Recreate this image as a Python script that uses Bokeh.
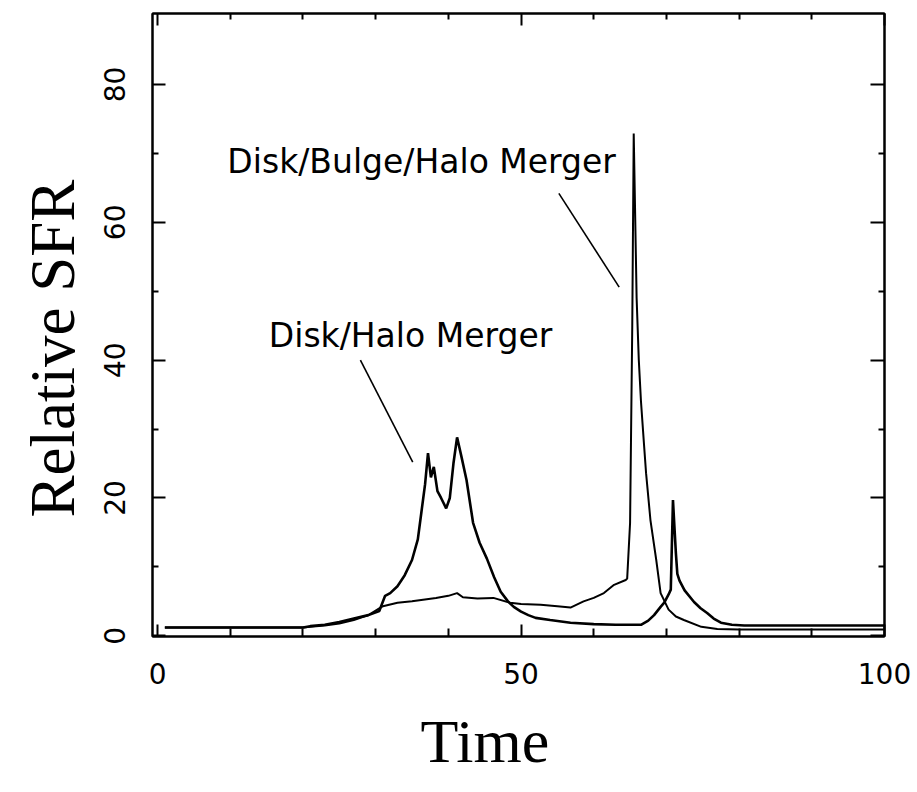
import math
from bokeh.plotting import figure
from bokeh.models import Range1d, LinearAxis, FixedTicker, Label, Title
from bokeh.embed import file_html
from bokeh.resources import INLINE

# ---------------- data ----------------
# Disk/Halo merger (no bulge): early double burst, then small final-merger spike
dh_time = [1, 5, 10, 15, 20, 21, 23, 25, 27, 29, 30.5, 31.3, 32, 33, 34, 35, 35.8,
           36.3, 36.8, 37.2, 37.6, 38.0, 38.5, 39.0, 39.7, 40.2, 40.7, 41.2, 41.8,
           42.5, 43.4, 44.3, 45.3, 46.3, 47.2, 48.2, 49, 50, 51, 52, 54, 56.8, 60,
           63, 66.5, 67.5, 68.3, 69.2, 69.7, 70.3, 70.6, 70.9, 71.1, 71.3, 71.5,
           71.8, 72.5, 73.8, 74.7, 75.6, 76.5, 77.5, 79, 80.7, 85, 90, 95, 100]
dh_sfr = [1.2, 1.2, 1.2, 1.2, 1.2, 1.4, 1.6, 2.0, 2.5, 3.0, 3.6, 5.8, 6.2, 7.2, 8.8,
          11.0, 14.0, 18.0, 22.0, 26.5, 23.0, 24.5, 21.0, 20.0, 18.5, 20.0, 25.0,
          28.8, 26.0, 22.6, 16.4, 13.5, 11.2, 8.5, 6.4, 5.0, 4.2, 3.5, 3.0, 2.6, 2.3,
          1.9, 1.7, 1.6, 1.6, 2.2, 3.0, 4.2, 4.8, 6.0, 6.7, 19.7, 15.8, 12.0, 9.0,
          8.0, 6.6, 4.9, 4.0, 3.3, 2.5, 1.9, 1.6, 1.5, 1.5, 1.5, 1.5, 1.5]

# Disk/Bulge/Halo merger: suppressed early, huge burst at final merger
dbh_time = [1, 5, 10, 15, 20, 21, 23, 25, 27, 29, 31, 33, 35, 38.3, 40, 41.2, 42,
            44, 46.2, 48.5, 50, 52.7, 55, 56.8, 58.6, 60, 61.4, 62.8, 64.4, 64.6,
            65.0, 65.3, 65.5, 65.7, 65.9, 66.2, 66.5, 66.9, 67.2, 67.8, 68.6, 69.2,
            70.3, 71.3, 72.4, 74.8, 77, 80, 85, 90, 95, 100]
dbh_sfr = [1.2, 1.2, 1.2, 1.2, 1.2, 1.3, 1.5, 1.8, 2.3, 3.0, 4.3, 4.8, 5.0, 5.5,
           5.8, 6.2, 5.6, 5.4, 5.5, 4.8, 4.6, 4.5, 4.3, 4.1, 5.0, 5.5, 6.2, 7.4,
           8.1, 8.3, 16.4, 45.0, 72.9, 61.0, 49.0, 40.0, 34.0, 28.0, 23.6, 16.8,
           11.0, 6.2, 3.8, 2.8, 2.3, 1.3, 1.0, 0.9, 0.9, 0.9, 0.9, 0.9]

x_major_ticks = [0, 50, 100]
x_minor_ticks = [10, 20, 30, 40, 60, 70, 80, 90]
y_major_ticks = [0, 20, 40, 60, 80]
y_minor_ticks = [10, 30, 50, 70]

label_dbh = "Disk/Bulge/Halo Merger"
label_dh = "Disk/Halo Merger"
x_title = "Time"
y_title = "Relative SFR"

# ---------------- figure ----------------
p = figure(width=917, height=792, output_backend="svg", toolbar_location=None,
           x_range=Range1d(-0.7, 100), y_range=Range1d(-0.1, 90.3),
           x_axis_type=None, y_axis_type=None,
           min_border_left=152, min_border_right=33,
           min_border_top=13, min_border_bottom=156)
p.background_fill_color = "white"
p.border_fill_color = "white"
p.outline_line_color = "black"
p.outline_line_width = 2
p.grid.visible = False

tick_font = "DejaVu Sans"


def style_axis(ax, major_in, minor_in):
    ax.axis_line_color = "black"
    ax.axis_line_width = 2
    ax.major_tick_in = major_in
    ax.major_tick_out = 0
    ax.minor_tick_in = minor_in
    ax.minor_tick_out = 0
    ax.major_tick_line_width = 2
    ax.minor_tick_line_width = 2
    ax.major_tick_line_color = "black"
    ax.minor_tick_line_color = "black"


bottom = LinearAxis(ticker=FixedTicker(ticks=x_major_ticks, minor_ticks=x_minor_ticks))
style_axis(bottom, 12, 8)
bottom.major_label_text_font = tick_font
bottom.major_label_text_font_size = "28px"
bottom.major_label_text_color = "black"
bottom.major_label_standoff = 26
p.add_layout(bottom, "below")

left = LinearAxis(ticker=FixedTicker(ticks=y_major_ticks, minor_ticks=y_minor_ticks))
style_axis(left, 13, 6)
left.major_label_text_font = tick_font
left.major_label_text_font_size = "28px"
left.major_label_text_color = "black"
left.major_label_orientation = "vertical"
left.major_label_standoff = 27
p.add_layout(left, "left")

top = LinearAxis(ticker=FixedTicker(ticks=x_major_ticks, minor_ticks=x_minor_ticks))
style_axis(top, 12, 6)
top.major_label_text_font_size = "0px"
top.major_label_standoff = 0
top.major_label_overrides = {t: "" for t in x_major_ticks}
p.add_layout(top, "above")

right = LinearAxis(ticker=FixedTicker(ticks=y_major_ticks, minor_ticks=y_minor_ticks))
style_axis(right, 14, 6)
right.major_label_text_font_size = "0px"
right.major_label_standoff = 0
right.major_label_overrides = {t: "" for t in y_major_ticks}
p.add_layout(right, "right")

# axis titles (serif, large), placed along the axis as in the reference
p.add_layout(Title(text=y_title, text_font="Liberation Serif", text_font_size="63px",
                   text_font_style="normal", text_color="black",
                   align="left", offset=119, standoff=28), "left")
p.add_layout(Title(text=x_title, text_font="Liberation Serif", text_font_size="62px",
                   text_font_style="normal", text_color="black",
                   align="left", offset=268, standoff=36), "below")

# ---------------- curves ----------------
p.line(dbh_time, dbh_sfr, line_color="black", line_width=2)
p.line(dh_time, dh_sfr, line_color="black", line_width=2.6)

# ---------------- annotations ----------------
p.segment(x0=[55.2], y0=[64.2], x1=[63.5], y1=[50.6], line_color="black", line_width=1.6)
p.segment(x0=[27.9], y0=[40.0], x1=[35.1], y1=[25.2], line_color="black", line_width=1.6)

p.add_layout(Label(x=9.6, y=68.8, text=label_dbh, text_font=tick_font,
                   text_font_size="33px", text_color="black",
                   text_align="left", text_baseline="middle"))
p.add_layout(Label(x=15.3, y=43.6, text=label_dh, text_font=tick_font,
                   text_font_size="33px", text_color="black",
                   text_align="left", text_baseline="middle"))

open("out.html", "w").write(file_html(p, INLINE))
